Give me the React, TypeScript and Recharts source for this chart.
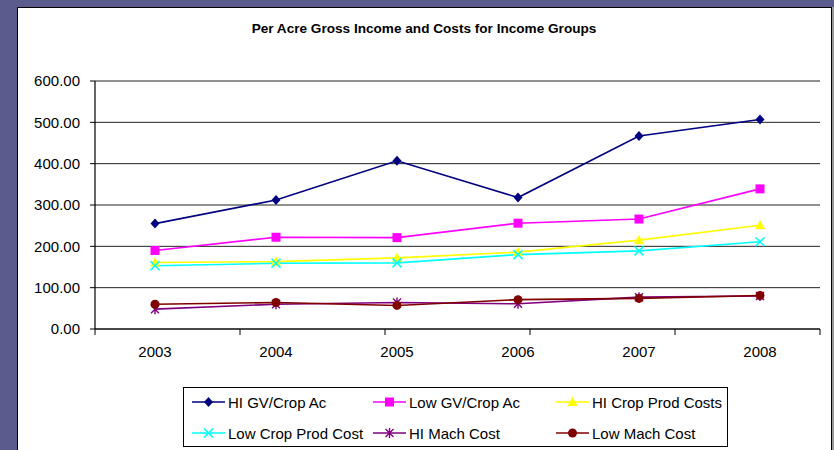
import React from 'react';
import { LineChart, Line, XAxis, YAxis, CartesianGrid, Legend } from 'recharts';

const years = ['2003', '2004', '2005', '2006', '2007', '2008'];
const hiGv = [255, 312, 407, 318, 467, 507];
const lowGv = [190, 222, 221, 256, 266, 339];
const hiCropProd = [161, 163, 172, 186, 215, 251];
const lowCropProd = [153, 159, 160, 180, 189, 211];
const hiMach = [48, 60, 64, 61, 77, 80];
const lowMach = [60, 64, 57, 71, 74, 81];
const yTicks = [0, 100, 200, 300, 400, 500, 600];
const boundaryTicks = [0, 1, 2, 3, 4, 5, 6];

const data = years.map((year, i) => ({
  year,
  hiGv: hiGv[i],
  lowGv: lowGv[i],
  hiCropProd: hiCropProd[i],
  lowCropProd: lowCropProd[i],
  hiMach: hiMach[i],
  lowMach: lowMach[i],
}));

type Shape = 'diamond' | 'square' | 'triangle' | 'x' | 'star' | 'circle';

const seriesDefs: { key: string; name: string; color: string; shape: Shape }[] = [
  { key: 'hiGv', name: 'HI GV/Crop Ac', color: '#000080', shape: 'diamond' },
  { key: 'lowGv', name: 'Low GV/Crop Ac', color: '#FF00FF', shape: 'square' },
  { key: 'hiCropProd', name: 'HI Crop Prod Costs', color: '#FFFF00', shape: 'triangle' },
  { key: 'lowCropProd', name: 'Low Crop Prod Cost', color: '#00FFFF', shape: 'x' },
  { key: 'hiMach', name: 'HI Mach Cost', color: '#800080', shape: 'star' },
  { key: 'lowMach', name: 'Low Mach Cost', color: '#800000', shape: 'circle' },
];

const font = '"Liberation Sans", Arial, sans-serif';

function marker(shape: Shape, cx: number, cy: number, color: string, key?: string | number) {
  switch (shape) {
    case 'diamond':
      return <path key={key} d={`M${cx},${cy - 5}L${cx + 4.5},${cy}L${cx},${cy + 5}L${cx - 4.5},${cy}Z`} fill={color} />;
    case 'square':
      return <rect key={key} x={cx - 4.5} y={cy - 4.5} width={9} height={9} fill={color} />;
    case 'triangle':
      return <path key={key} d={`M${cx},${cy - 5.5}L${cx + 5},${cy + 4}L${cx - 5},${cy + 4}Z`} fill={color} />;
    case 'x':
      return (
        <path key={key} d={`M${cx - 4.5},${cy - 4.5}L${cx + 4.5},${cy + 4.5}M${cx + 4.5},${cy - 4.5}L${cx - 4.5},${cy + 4.5}`} stroke={color} strokeWidth={1.6} />
      );
    case 'star':
      return (
        <path key={key} d={`M${cx - 4},${cy - 4}L${cx + 4},${cy + 4}M${cx + 4},${cy - 4}L${cx - 4},${cy + 4}M${cx},${cy - 5}L${cx},${cy + 5}`} stroke={color} strokeWidth={1.4} />
      );
    default:
      return <circle key={key} cx={cx} cy={cy} r={4.5} fill={color} />;
  }
}

const makeDot = (shape: Shape, color: string) => (props: any) => {
  const { cx, cy, index } = props;
  if (cx == null || cy == null) return <g key={index} />;
  return marker(shape, cx, cy, color, index);
};

const LegendBox = () => {
  const colX = [8, 189, 372];
  const rowY = [14, 45];
  return (
    <div style={{ position: 'relative', width: 545, height: 60, border: '1px solid #000', background: '#fff', boxSizing: 'border-box' }}>
      {seriesDefs.map((s, i) => (
        <div
          key={s.key}
          style={{
            position: 'absolute',
            left: colX[i % 3],
            top: rowY[Math.floor(i / 3)] - 10,
            height: 20,
            display: 'flex',
            alignItems: 'center',
            fontFamily: font,
            fontSize: 15,
            color: '#000',
            whiteSpace: 'nowrap',
          }}
        >
          <svg width={33} height={20} style={{ marginRight: 3 }}>
            <line x1={0} y1={10} x2={33} y2={10} stroke={s.color} strokeWidth={1.6} />
            {marker(s.shape, 16.5, 10, s.color)}
          </svg>
          {s.name}
        </div>
      ))}
    </div>
  );
};

export default function App() {
  return (
    <div style={{ position: 'fixed', left: 0, top: 0, width: 834, height: 450, background: '#5b5b8e', overflow: 'hidden' }}>
      <div
        style={{
          position: 'absolute',
          left: 17,
          top: 7,
          width: 813,
          height: 460,
          background: '#fff',
          border: '1px solid #000',
          boxShadow: '2px 0 0 #9a9a9a',
        }}
      />
      <div
        style={{
          position: 'absolute',
          left: 18,
          top: 21,
          width: 812,
          textAlign: 'center',
          fontFamily: font,
          fontWeight: 'bold',
          fontSize: 13.6,
          color: '#000',
        }}
      >
        Per Acre Gross Income and Costs for Income Groups
      </div>
      <div style={{ position: 'absolute', left: 18, top: 8 }}>
        <LineChart width={812} height={442} data={data} margin={{ top: 73, right: 10, left: 0, bottom: 119 }}>
          <CartesianGrid vertical={false} stroke="#222" strokeWidth={1} />
          <XAxis
            dataKey="year"
            xAxisId="cat"
            padding={{ left: 60, right: 60 }}
            axisLine={false}
            tickLine={false}
            tickSize={6}
            tickMargin={10}
            height={1}
            tick={{ fill: '#000', fontSize: 15, fontFamily: font }}
            interval={0}
          />
          <XAxis
            xAxisId="b"
            orientation="bottom"
            type="number"
            domain={[0, 6]}
            ticks={boundaryTicks}
            height={1}
            tickFormatter={() => ''}
            tick={{ fontSize: 1 }}
            tickSize={6}
            axisLine={{ stroke: '#000', strokeWidth: 1.2 }}
            tickLine={{ stroke: '#000' }}
          />
          <YAxis
            domain={[0, 600]}
            ticks={yTicks}
            width={77}
            tickSize={5}
            tickMargin={10}
            tickFormatter={(v: number) => v.toFixed(2)}
            axisLine={{ stroke: '#000', strokeWidth: 1.2 }}
            tickLine={{ stroke: '#000' }}
            tick={{ fill: '#000', fontSize: 15, fontFamily: font }}
          />
          <YAxis
            yAxisId="r"
            orientation="right"
            width={0}
            tick={false}
            tickLine={false}
            axisLine={{ stroke: '#888' }}
          />
          {seriesDefs.map((s) => (
            <Line
              key={s.key}
              xAxisId="cat"
              dataKey={s.key}
              name={s.name}
              stroke={s.color}
              strokeWidth={1.6}
              dot={makeDot(s.shape, s.color)}
              activeDot={false}
              isAnimationActive={false}
            />
          ))}
          <Legend
            layout="horizontal"
            verticalAlign="middle"
            content={() => <LegendBox />}
            wrapperStyle={{ position: 'absolute', left: 165, top: 379, width: 545, height: 60 }}
          />
        </LineChart>
      </div>
    </div>
  );
}
